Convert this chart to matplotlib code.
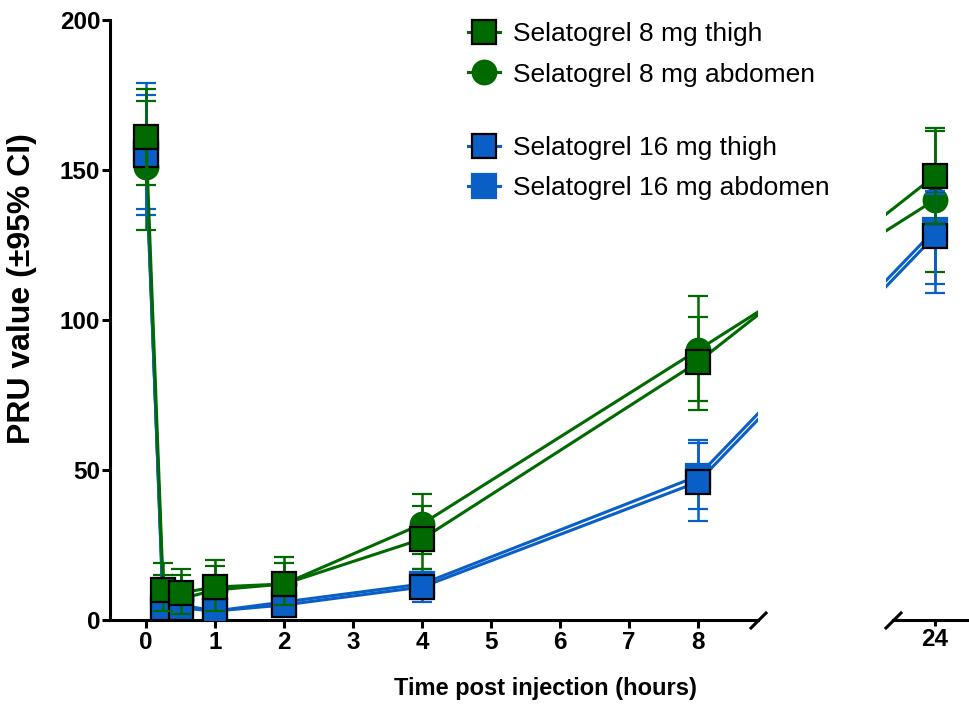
import numpy as np
import matplotlib
matplotlib.use("Agg")
import matplotlib.pyplot as plt
from matplotlib.lines import Line2D

plt.rcParams["font.family"] = ["Liberation Sans", "DejaVu Sans"]

# sampling times (hours) and PRU means with 95% CI bounds
hours = [0, 0.25, 0.5, 1, 2, 4, 8, 24]

thigh8 = [161, 10, 9, 11, 12, 27, 86, 148]
thigh8_lo = [145, 3, 2, 3, 5, 17, 70, 132]
thigh8_hi = [177, 19, 17, 20, 21, 38, 101, 164]

abd8 = [151, 7, 7, 10, 12, 32, 90, 140]
abd8_lo = [130, 1, 1, 2, 5, 22, 73, 116]
abd8_hi = [173, 15, 15, 18, 19, 42, 108, 163]

thigh16 = [155, 4, 4, 3, 5, 11, 46, 128]
thigh16_lo = [137, 0, 0, 0, 1, 6, 33, 112]
thigh16_hi = [179, 9, 9, 7, 10, 17, 59, 142]

abd16 = [156, 3, 5, 3, 6, 12, 48, 130]
abd16_lo = [135, 0, 1, 0, 2, 7, 37, 109]
abd16_hi = [175, 8, 9, 7, 10, 16, 60, 143]

labels = ["Selatogrel 8 mg thigh", "Selatogrel 8 mg abdomen",
          "Selatogrel 16 mg thigh", "Selatogrel 16 mg abdomen"]

green = "#006a00"
blue = "#0a5fc6"

# broken time axis: after 8 h the scale is squeezed so 24 h sits just past the gap
K = 3.43 / 16.0


def fwd(t):
    t = np.asarray(t, dtype=float)
    return np.where(t <= 8, t, 8 + (t - 8) * K)


def inv(p):
    p = np.asarray(p, dtype=float)
    return np.where(p <= 8, p, 8 + (p - 8) / K)


def px_to_hours(px):
    # horizontal pixel -> hours (0 h at x=146 px, 69 px per unit)
    return float(inv((px - 146) / 69.0))


W, H = 969, 704
fig = plt.figure(figsize=(W / 100, H / 100), dpi=100)
bottom = (H - 620) / H
height = 600 / H
ax1 = fig.add_axes([110 / W, bottom, (758 - 110) / W, height])
ax2 = fig.add_axes([886 / W, bottom, (W - 886) / W, height], sharey=ax1)

# drawing order: circle first so the squares sit on top of it
series = [
    (abd8, abd8_lo, abd8_hi, green, "o", green, labels[1]),
    (abd16, abd16_lo, abd16_hi, blue, "s", blue, labels[3]),
    (thigh16, thigh16_lo, thigh16_hi, blue, "s", "black", labels[2]),
    (thigh8, thigh8_lo, thigh8_hi, green, "s", "black", labels[0]),
]

handles = {}
for ax in (ax1, ax2):
    ax.set_xscale("function", functions=(fwd, inv))
    for i, (m, lo, hi, c, mk, ec, lab) in enumerate(series):
        m = np.array(m)
        err = [m - np.array(lo), np.array(hi) - m]
        ax.errorbar(hours, m, yerr=err, color=c, lw=2.2, marker=mk,
                    ms=17, mfc=c, mec=ec, mew=1.6, ecolor=c,
                    elinewidth=1.8, capsize=7, capthick=1.8,
                    zorder=2 + i)
        handles[lab] = Line2D([], [], color=c, lw=2.2, marker=mk, ms=17,
                              mfc=c, mec=ec, mew=1.6)

ax1.set_xlim(px_to_hours(110), px_to_hours(758))
ax2.set_xlim(px_to_hours(886), px_to_hours(W))
ax1.set_ylim(0, 200)

ax1.set_xticks([0, 1, 2, 3, 4, 5, 6, 7, 8])
ax1.set_xticklabels([str(v) for v in range(9)])
ax1.set_yticks([0, 50, 100, 150, 200])
ax2.set_xticks([24])
ax2.set_xticklabels(["24"])

for ax in (ax1, ax2):
    ax.spines["top"].set_visible(False)
    ax.spines["right"].set_visible(False)
    for s in ax.spines.values():
        s.set_linewidth(2.2)
    ax.tick_params(width=2.2, length=6, labelsize=17.5, pad=2)
    for t in ax.get_xticklabels() + ax.get_yticklabels():
        t.set_fontweight("bold")
ax1.tick_params(axis="y", pad=1)
ax2.spines["left"].set_visible(False)
ax2.spines["bottom"].set_bounds(px_to_hours(893), px_to_hours(W + 5))
ax2.tick_params(axis="y", left=False, labelleft=False)
ax2.tick_params(axis="x", length=4)

# diagonal break marks on both sides of the gap
for x0, x1 in ((751, 766), (886, 901)):
    fig.add_artist(Line2D([x0 / W, x1 / W], [(H - 628) / H, (H - 613) / H],
                          color="black", lw=2.2, transform=fig.transFigure))

leg_kw = dict(loc="center left", frameon=False, fontsize=19, handlelength=1.2,
              handletextpad=0.5, borderpad=0, borderaxespad=0,
              labelspacing=0.62)
leg1 = ax1.legend([handles[labels[0]], handles[labels[1]]], labels[:2],
                  bbox_to_anchor=(468 / W, 1 - 54.5 / H),
                  bbox_transform=fig.transFigure, **leg_kw)
ax1.add_artist(leg1)
ax1.legend([handles[labels[2]], handles[labels[3]]], labels[2:],
           bbox_to_anchor=(468 / W, 1 - 168 / H),
           bbox_transform=fig.transFigure, **leg_kw)

fig.text(545 / W, 1 - 688 / H, "Time post injection (hours)", ha="center",
         va="center", fontsize=17, fontweight="bold")
fig.text(22 / W, 1 - 289 / H, "PRU value (\u00b195% CI)", ha="center",
         va="center", rotation=90, fontsize=23, fontweight="bold")

fig.savefig("out.png", dpi=100)
